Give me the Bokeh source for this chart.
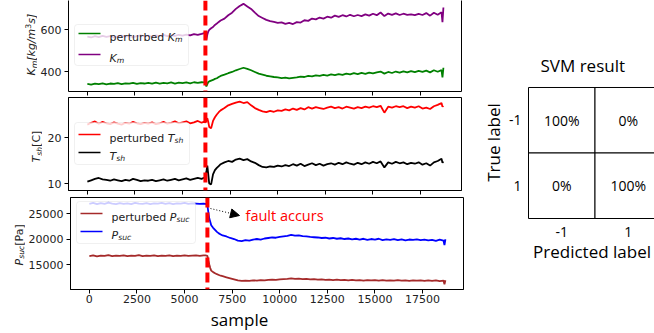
import math
from bokeh.plotting import figure
from bokeh.layouts import row, column
from bokeh.models import (Range1d, FixedTicker, LinearAxis, Span, BoxAnnotation,
                          Label, Arrow, NormalHead, CustomLabelingPolicy)
from bokeh.embed import file_html
from bokeh.resources import INLINE
from bokeh.core.properties import value

# ---------------- data ----------------
sample = [0, 200, 400, 600, 800, 1000, 1200, 1400, 1600, 1800, 2000, 2200, 2400, 2600, 2800,
          3000, 3200, 3400, 3600, 3800, 4000, 4200, 4400, 4600, 4800, 5000, 5200, 5400, 5600,
          5800, 6000,
          6100, 6200, 6250, 6300, 6350, 6400, 6500, 6600, 6700, 6800, 6900, 7000,
          7200, 7400, 7600, 7800, 8000, 8200, 8400, 8600, 8800, 9000,
          9200, 9400, 9600, 9800, 10000, 10200, 10400, 10600, 10800, 11000,
          11200, 11400, 11600, 11800, 12000, 12200, 12400, 12600, 12800, 13000,
          13200, 13400, 13600, 13800, 14000, 14200, 14400, 14600, 14800, 15000,
          15200, 15400, 15600, 15800, 16000, 16200, 16400, 16600, 16800, 17000,
          17200, 17400, 17600, 17800, 18000, 18200, 18400, 18600,
          18650, 18700]

km = [566, 562, 568, 564, 570, 565, 569, 563, 567, 571, 566, 570, 564, 569, 572,
      567, 571, 566, 572, 569, 574, 568, 573, 570, 575, 571, 576, 572, 578, 574, 579,
      582, 585, 552, 575, 590, 598, 606, 612, 622, 628, 636, 643,
      652, 668, 680, 698, 712, 722, 710, 698, 680, 664,
      655, 646, 640, 636, 632, 634, 627, 631, 626, 635,
      633, 644, 641, 652, 648, 657, 652, 661, 656, 666,
      660, 668, 662, 670, 663, 669, 664, 672, 666, 675,
      668, 681, 664, 676, 670, 677, 669, 675, 670, 672,
      668, 674, 669, 678, 666, 680, 670, 682,
      635, 705]

km_perturbed = [341, 338, 343, 340, 344, 339, 343, 341, 345, 340, 344, 342, 346, 341, 345,
                343, 346, 342, 347, 343, 346, 344, 348, 343, 347, 345, 348, 344, 349, 346, 349,
                348, 350, 329, 340, 350, 353, 357, 360, 365, 368, 374, 379,
                385, 392, 398, 406, 412, 418, 413, 406, 398, 390,
                385, 380, 377, 374, 372, 369, 371, 367, 370, 372,
                376, 374, 379, 377, 382, 379, 384, 381, 386, 383,
                388, 384, 390, 386, 392, 388, 394, 389, 395, 391,
                396, 400, 390, 398, 393, 400, 395, 401, 396, 402,
                397, 403, 398, 404, 396, 406, 399, 407,
                372, 418]

tsh = [10.4, 10.7, 11.0, 11.2, 10.9, 10.8, 10.6, 10.9, 10.7, 10.5, 10.8, 10.6, 11.0, 10.8, 10.5,
       10.7, 10.6, 10.8, 10.5, 10.7, 10.9, 10.6, 10.8, 11.0, 10.7, 10.9, 11.1, 10.8, 11.0, 11.2, 11.0,
       11.2, 11.4, 12.5, 13.9, 12.0, 10.0, 9.8, 12.0, 12.9, 13.4, 13.8, 14.2,
       14.6, 14.9, 14.7, 15.2, 15.4, 15.1, 15.3, 14.8, 14.5, 14.0,
       13.6, 13.5, 13.7, 13.6, 13.9, 13.7, 14.0, 13.8, 14.2, 13.9,
       14.3, 13.8, 14.1, 14.4, 14.0, 14.3, 13.9, 14.2, 14.4, 14.1,
       14.5, 14.2, 14.6, 14.3, 14.1, 14.5, 14.2, 14.6, 14.3, 14.7,
       14.4, 14.8, 13.5, 14.6, 14.3, 14.7, 14.4, 14.6, 14.2, 14.5,
       14.3, 14.6, 14.1, 14.4, 13.9, 14.6, 14.9, 15.4,
       14.5, 14.8]

tsh_perturbed = [22.8, 23.2, 23.5, 23.0, 23.4, 23.1, 22.9, 23.3, 23.0, 22.8, 23.2, 23.0, 23.4, 23.1, 22.9,
                 23.2, 23.0, 23.3, 22.9, 23.1, 23.4, 23.0, 23.2, 23.5, 23.1, 23.3, 23.5, 23.1, 23.3, 23.6, 23.2,
                 23.4, 23.3, 23.8, 24.2, 23.4, 22.3, 22.0, 23.6, 24.4, 25.0, 25.5, 25.9,
                 26.4, 27.0, 27.3, 27.6, 27.8, 27.5, 27.7, 27.0, 26.4, 26.0,
                 25.7, 25.5, 25.8, 25.6, 25.9, 25.8, 26.1, 25.9, 26.3, 26.0,
                 26.4, 26.1, 26.6, 26.3, 26.6, 26.4, 26.2, 26.5, 26.7, 26.4,
                 26.6, 26.3, 26.7, 26.5, 26.3, 26.6, 26.4, 26.7, 26.5, 26.8,
                 26.6, 26.9, 25.4, 26.7, 26.5, 26.8, 26.6, 26.8, 26.4, 26.7,
                 26.5, 26.8, 26.3, 26.5, 26.2, 26.8, 27.1, 27.5,
                 26.7, 26.9]

psuc = [26900, 27100, 26850, 27050, 26900, 27150, 26950, 26850, 27050, 26900, 27000, 26850, 27100, 26950, 26900,
        27050, 26850, 27000, 26950, 27100, 26900, 27050, 26850, 27000, 26950, 27100, 26900, 27000, 26950, 26900, 26950,
        26900, 26650, 25200, 24000, 23400, 22700, 22200, 21800, 21400, 21100, 20900, 20700,
        20500, 20200, 20000, 19700, 19600, 19800, 19700, 19900, 20000, 19900,
        20100, 20200, 20300, 20250, 20400, 20500, 20600, 20800, 20650, 20700,
        20550, 20500, 20400, 20350, 20300, 20200, 20250, 20100, 20200, 20050,
        20150, 20000, 20100, 19950, 20050, 19900, 20050, 19850, 20000, 19900,
        20050, 19800, 19950, 19850, 20000, 19800, 19950, 19750, 19900, 19850,
        19950, 19800, 19900, 19750, 19850, 19650, 19900, 19700,
        18800, 19950]

psuc_perturbed = [16650, 16800, 16600, 16750, 16700, 16850, 16650, 16750, 16700, 16800, 16650, 16750, 16700, 16850, 16650,
                  16750, 16700, 16800, 16650, 16750, 16700, 16800, 16650, 16750, 16700, 16800, 16700, 16750, 16800, 16700, 16800,
                  16800, 16700, 15800, 15000, 14300, 13800, 13500, 13300, 13100, 12950, 12800, 12700,
                  12500, 12300, 12100, 11900, 11800, 11850, 11800, 11900, 11850, 11950,
                  11900, 12000, 12050, 12000, 12100, 12150, 12200, 12300, 12200, 12250,
                  12150, 12200, 12100, 12150, 12050, 12100, 12000, 12050, 11950, 12050,
                  11950, 12000, 11900, 12000, 11900, 11950, 11850, 11950, 11900, 11950,
                  11850, 11950, 11850, 11900, 11850, 11950, 11850, 11900, 11800, 11900,
                  11850, 11900, 11800, 11900, 11800, 11900, 11750, 11850,
                  11100, 11900]

fault_sample = 6200
x_ticks = [0, 2500, 5000, 7500, 10000, 12500, 15000, 17500]
km_ticks = [400, 600]
tsh_ticks = [10, 20]
psuc_ticks = [15000, 20000, 25000]

cm_true = ["-1", "1"]
cm_pred = ["-1", "1"]
cm_values = [[100, 0], [0, 100]]

# ---------------- layout helpers ----------------
XR = (-990, 19650)
FL, FR = 68, 461
COLW = 470
PANELS = {
    1: dict(yr=(305, 738), top=0, bottom=91, bb=6, lw=37),
    2: dict(yr=(8.48, 28.7), top=97, bottom=190, bb=7, lw=42),
    3: dict(yr=(10100, 28140), top=197, bottom=289, bb=18, lw=25),
}
TXT = "#222222"
LW = 1.8


def to_data(k, px, py):
    info = PANELS[k]
    y0, y1 = info["yr"]
    x = XR[0] + (px - FL) / (FR - FL) * (XR[1] - XR[0])
    y = y0 + (info["bottom"] - py) / (info["bottom"] - info["top"]) * (y1 - y0)
    return x, y


W = {'p': 1300, 'e': 1260, 'r': 842, 't': 803, 'u': 1298, 'b': 1300, 'd': 1300, ' ': 651,
     'K': 1343, 'm': 1995, 'T': 1251, 's': 1067, 'h': 1298, 'P': 1235, 'c': 1126, '[': 799,
     ']': 799, 'k': 1186, 'g': 1300, '/': 690, '3': 1303, 'C': 1430, 'a': 1255}


def tw(s, size):
    return sum(W.get(ch, 1200) for ch in s) / 2048 * size


SIZE = {'n': 11, 'sub': 7.7, 'sup': 7.7}
SHIFT = {'n': 0, 'sub': 2.5, 'sup': -4}


def strip(left, top, width, height, btop=0, bbottom=0):
    """A bare figure whose data coordinates are page pixels (for texts outside frames)."""
    s = figure(frame_width=width, frame_height=height,
               x_range=Range1d(left, left + width), y_range=Range1d(top + height, top),
               x_axis_location=None, y_axis_location=None,
               min_border_left=0, min_border_right=0, min_border_top=btop,
               min_border_bottom=bbottom,
               output_backend="svg", toolbar_location=None)
    s.xgrid.visible = False
    s.ygrid.visible = False
    s.outline_line_color = None
    return s


def style_axis(ax):
    ax.major_tick_out = 4
    ax.major_tick_in = 0
    ax.minor_tick_out = 0
    ax.minor_tick_in = 0
    ax.axis_line_color = "black"
    ax.major_tick_line_color = "black"
    ax.major_label_text_font = "DejaVu Sans"
    ax.major_label_text_font_size = "11px"
    ax.major_label_text_color = TXT
    ax.axis_label = None
    ax.axis_label_standoff = 0


def make_panel(k, yticks, show_xlabels):
    info = PANELS[k]
    p = figure(frame_width=FR - FL, frame_height=info["bottom"] - info["top"],
               x_range=Range1d(*XR), y_range=Range1d(*info["yr"]),
               output_backend="svg", toolbar_location=None,
               min_border_left=FL - info["lw"], min_border_right=COLW - FR, min_border_top=0,
               min_border_bottom=info["bb"])
    p.xgrid.visible = False
    p.ygrid.visible = False
    p.outline_line_color = "black"
    p.outline_line_width = 1
    style_axis(p.xaxis[0])
    style_axis(p.yaxis[0])
    p.xaxis.ticker = FixedTicker(ticks=x_ticks)
    p.yaxis.ticker = FixedTicker(ticks=yticks)
    p.yaxis.major_label_standoff = 3
    if show_xlabels:
        p.xaxis.major_label_standoff = 1
    else:
        # shared x axis: tick marks only, no tick labels
        p.xaxis.major_label_text_font_size = "0px"
        p.xaxis.major_label_standoff = 0
        p.xaxis.major_label_policy = CustomLabelingPolicy(
            code="for (const i of indices) { indices.unset(i) }")
    p.add_layout(Span(location=fault_sample, dimension="height", line_color="red",
                      line_width=4, line_dash="10 5"))
    return p


def add_legend(p, k, box, entries):
    l, t, r, b = box
    x0, y0 = to_data(k, l, b)
    x1, y1 = to_data(k, r, t)
    p.add_layout(BoxAnnotation(left=x0, right=x1, bottom=y0, top=y1, fill_color="white",
                               fill_alpha=0.8, line_color="#cccccc", line_width=1,
                               border_radius=3))
    for color, ly, pieces in entries:
        xa, ya = to_data(k, 78, ly)
        xb, _ = to_data(k, 100, ly)
        p.line([xa, xb], [ya, ya], line_color=color, line_width=1.5, level="overlay")
        cx = 109
        for text, italic, kind in pieces:
            size = SIZE[kind]
            X, Y = to_data(k, cx, ly + 3.5 + SHIFT[kind])
            p.add_layout(Label(x=X, y=Y, text=text, text_font="DejaVu Sans",
                               text_font_size=f"{size}px",
                               text_font_style="italic" if italic else "normal",
                               text_align="left", text_baseline="alphabetic",
                               text_color=TXT, level="overlay"))
            cx += tw(text, size)


def add_ylabel(s, xbase, ystart, pieces):
    cy = ystart
    for text, italic, kind in pieces:
        size = SIZE[kind]
        s.add_layout(Label(x=xbase + SHIFT[kind], y=cy, text=text, angle=math.pi / 2,
                           text_font="DejaVu Sans", text_font_size=f"{size}px",
                           text_font_style="italic" if italic else "normal",
                           text_align="left", text_baseline="alphabetic",
                           text_color=TXT))
        cy -= tw(text, size)


def label_strip(k):
    info = PANELS[k]
    return strip(0, info["top"], info["lw"], info["bottom"] - info["top"], 0, info["bb"])


# ---------------- panel 1 : K_m ----------------
p1 = make_panel(1, km_ticks, False)
p1.outline_line_color = None
right_ax = LinearAxis(ticker=FixedTicker(ticks=[]), major_label_text_font_size="0px",
                      axis_line_color="black", major_tick_out=0, minor_tick_out=0,
                      major_tick_in=0, minor_tick_in=0, major_label_standoff=0,
                      axis_label_standoff=0)
p1.add_layout(right_ax, "right")
p1.line(sample, km_perturbed, line_color="green", line_width=LW)
p1.line(sample, km, line_color="purple", line_width=LW)
add_legend(p1, 1, (74, 24, 188, 65), [
    ("green", 33, [("perturbed ", False, 'n'), ("K", True, 'n'), ("m", True, 'sub')]),
    ("purple", 54, [("K", True, 'n'), ("m", True, 'sub')]),
])
s1 = label_strip(1)
add_ylabel(s1, 31, 75, [("K", True, 'n'), ("m", True, 'sub'), ("[kg/m", True, 'n'),
                        ("3", False, 'sup'), ("s]", True, 'n')])

# ---------------- panel 2 : T_sh ----------------
p2 = make_panel(2, tsh_ticks, False)
p2.line(sample, tsh_perturbed, line_color="red", line_width=LW)
p2.line(sample, tsh, line_color="black", line_width=LW)
add_legend(p2, 2, (74, 122, 189, 164), [
    ("red", 134, [("perturbed ", False, 'n'), ("T", True, 'n'), ("sh", True, 'sub')]),
    ("black", 152, [("T", True, 'n'), ("sh", True, 'sub')]),
])
s2 = label_strip(2)
add_ylabel(s2, 36, 162, [("T", True, 'n'), ("sh", True, 'sub'), (" [C]", False, 'n')])

# ---------------- panel 3 : P_suc ----------------
p3 = make_panel(3, psuc_ticks, True)
p3.line(sample, psuc_perturbed, line_color="brown", line_width=LW)
p3.line(sample, psuc, line_color="blue", line_width=LW)
add_legend(p3, 3, (74, 201, 193, 243), [
    ("brown", 213, [("perturbed ", False, 'n'), ("P", True, 'n'), ("suc", True, 'sub')]),
    ("blue", 231, [("P", True, 'n'), ("suc", True, 'sub')]),
])
s3 = label_strip(3)
add_ylabel(s3, 18.5, 265, [("P", True, 'n'), ("suc", True, 'sub'), (" [Pa]", False, 'n')])

ax0, ay0 = to_data(3, 208, 208)
ax1, ay1 = to_data(3, 237, 215)
p3.add_layout(Arrow(end=NormalHead(size=9, fill_color="black", line_color="black"),
                    x_start=ax0, y_start=ay0, x_end=ax1, y_end=ay1,
                    line_color="black", line_width=1, line_dash="1 2"))
fx, fy = to_data(3, 243, 215)
p3.add_layout(Label(x=fx, y=fy, text="fault accurs", text_font="Open Sans",
                    text_font_size="14.5px", text_color="red", text_align="left",
                    text_baseline="middle"))

bottom_top = PANELS[3]["bottom"] + PANELS[3]["bb"]
s4 = strip(0, bottom_top, COLW, 333 - bottom_top)
s4.add_layout(Label(x=239, y=319, text="sample", text_font="Open Sans",
                    text_font_size="17px", text_color="black", text_align="center",
                    text_baseline="alphabetic"))

left = column(row(s1, p1, spacing=0), row(s2, p2, spacing=0), row(s3, p3, spacing=0), s4,
              spacing=0)

# ---------------- confusion matrix ----------------
CELL = 66.5
CM_L, CM_T = 525, 86
cm_fw, cm_fh = 129, 133
TL_W = 32
pad = 1 / CELL
pc = figure(frame_width=cm_fw, frame_height=cm_fh,
            x_range=Range1d(-pad, -pad + cm_fw / CELL), y_range=Range1d(-pad, 2 + pad),
            output_backend="svg", toolbar_location=None,
            min_border_left=CM_L - COLW - TL_W, min_border_right=0, min_border_top=CM_T,
            min_border_bottom=333 - CM_T - cm_fh, title="SVM result")
pc.xgrid.visible = False
pc.ygrid.visible = False
pc.outline_line_color = None
pc.title.text_font = "Open Sans"
pc.title.text_font_size = "17px"
pc.title.text_font_style = "normal"
pc.title.text_color = "black"
pc.title.align = "left"
pc.title.offset = 13
pc.title.standoff = 20

lefts, rights, bottoms, tops, cx, cy, labels = [], [], [], [], [], [], []
n = len(cm_true)
for i in range(n):
    for j in range(n):
        lefts.append(j)
        rights.append(j + 1)
        bottoms.append(n - 1 - i)
        tops.append(n - i)
        cx.append(j + 0.5)
        cy.append(n - 1 - i + 0.5)
        labels.append(f"{cm_values[i][j]}%")
pc.quad(left=lefts, right=rights, bottom=bottoms, top=tops, fill_color="white",
        line_color="black", line_width=1)
pc.text(x=cx, y=cy, text=labels, text_font=value("Open Sans"), text_font_size="14px",
        text_align="center", text_baseline="middle", text_color="black")

for ax in (pc.xaxis[0], pc.yaxis[0]):
    ax.axis_line_color = None
    ax.major_tick_line_color = None
    ax.minor_tick_line_color = None
    ax.major_tick_out = 0
    ax.major_tick_in = 0
    ax.major_label_text_font = "Open Sans"
    ax.major_label_text_font_size = "14px"
    ax.major_label_text_color = "black"
pc.xaxis.ticker = FixedTicker(ticks=[0.5, 1.5])
pc.xaxis.major_label_overrides = {0.5: cm_pred[0], 1.5: cm_pred[1]}
pc.yaxis.ticker = FixedTicker(ticks=[0.5, 1.5])
pc.yaxis.major_label_overrides = {1.5: cm_true[0], 0.5: cm_true[1]}
pc.yaxis.axis_label = None
pc.yaxis.axis_label_standoff = 0
pc.xaxis.major_label_standoff = 7
pc.yaxis.major_label_standoff = 6
pc.yaxis.major_label_orientation = "horizontal"
pc.xaxis.axis_label = "Predicted label"
pc.xaxis.axis_label_text_font = "Open Sans"
pc.xaxis.axis_label_text_font_size = "17px"
pc.xaxis.axis_label_text_font_style = "normal"
pc.xaxis.axis_label_text_color = "black"
pc.xaxis.axis_label_standoff = 0

s5 = strip(COLW, CM_T, TL_W, cm_fh, CM_T, 333 - CM_T - cm_fh)
s5.add_layout(Label(x=491, y=142, text="True label", angle=math.pi / 2,
                    text_font="Open Sans", text_font_size="17px", text_color="black",
                    text_align="center", text_baseline="middle"))

layout = row(left, s5, pc, spacing=0)
open("out.html", "w").write(file_html(layout, INLINE))
